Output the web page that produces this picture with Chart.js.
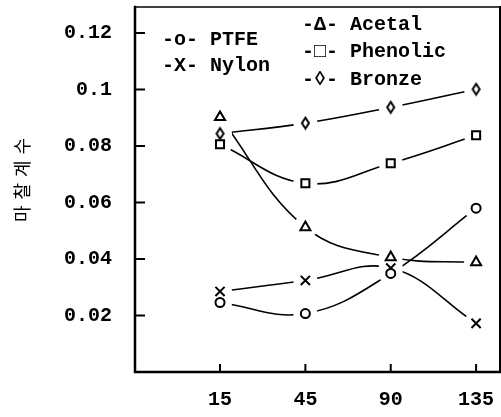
<!DOCTYPE html>
<html>
<head>
<meta charset="utf-8">
<script src="https://cdn.jsdelivr.net/npm/chart.js@4.4.1/dist/chart.umd.min.js"></script>
<style>
  html, body { margin: 0; padding: 0; background: #fff; }
  #wrap { width: 501px; height: 417px; }
</style>
</head>
<body>
<div id="wrap"><canvas id="c" width="501" height="417"></canvas></div>
<script>
/* data */
const xLabels  = ['15', '45', '90', '135'];
const yTicks   = [0.02, 0.04, 0.06, 0.08, 0.1, 0.12];
const ptfe     = [0.0246, 0.0207, 0.0349, 0.0580];
const nylon    = [0.0285, 0.0324, 0.0368, 0.0172];
const acetal   = [0.0902, 0.0512, 0.0406, 0.0388];
const phenolic = [0.0806, 0.0668, 0.0739, 0.0838];
const bronze   = [0.0844, 0.0881, 0.0937, 0.1001];
const yTitle   = '마찰계수';

const FONT = '"Liberation Mono", "DejaVu Sans Mono", monospace';
const GAP = 12;   // curves stop this far from each marker

// tall narrow diamond for Bronze
function diamond(w, h) {
  const c = document.createElement('canvas');
  c.width = w + 4; c.height = h + 4;
  const g = c.getContext('2d');
  g.lineWidth = 2; g.strokeStyle = '#000'; g.fillStyle = '#fff';
  g.beginPath();
  g.moveTo(c.width / 2, 2);
  g.lineTo(c.width - 2, c.height / 2);
  g.lineTo(c.width / 2, c.height - 2);
  g.lineTo(2, c.height / 2);
  g.closePath();
  g.fill(); g.stroke();
  return c;
}

const series = [
  { name: 'PTFE',     data: ptfe,     style: 'circle',   r: 4.5 },
  { name: 'Nylon',    data: nylon,    style: 'crossRot', r: 6.5 },
  { name: 'Acetal',   data: acetal,   style: 'triangle', r: 5.8 },
  { name: 'Phenolic', data: phenolic, style: 'rect',     r: 5.7 },
  { name: 'Bronze',   data: bronze,   style: diamond(7, 11), r: 6 }
];

const toPts = arr => arr.map((y, i) => ({ x: i, y }));

const datasets = [];
series.forEach(s => {
  // curve only
  datasets.push({ label: s.name, isCurve: true, data: toPts(s.data), showLine: true,
    tension: 0.4, fill: false, borderColor: '#000', borderWidth: 1.6, pointRadius: 0 });
  // markers only
  datasets.push({ label: s.name + ' pt', data: toPts(s.data), showLine: false,
    pointStyle: s.style, pointRadius: s.r,
    pointBackgroundColor: '#fff', pointBorderColor: '#000', pointBorderWidth: 2 });
});

const legendItems = [
  { text: '-o- PTFE',     x: 162, y: 40 },
  { text: '-X- Nylon',    x: 162, y: 66 },
  { text: '-Δ- Acetal',   x: 302, y: 25 },
  { text: '-□- Phenolic', x: 302, y: 52 },
  { text: '-◊- Bronze',   x: 302, y: 80 }
];

const noPad = s => { s.paddingLeft = s.paddingRight = s.paddingTop = s.paddingBottom = 0; };

// clip holes round every marker while a curve is drawn
const gapPlugin = {
  id: 'gaps',
  beforeDatasetDraw(chart, args) {
    if (!chart.data.datasets[args.index].isCurve) return;
    const { ctx, scales } = chart;
    ctx.save();
    series.forEach(s => s.data.forEach((v, i) => {
      const px = scales.x.getPixelForValue(i);
      const py = scales.y.getPixelForValue(v);
      ctx.beginPath();
      ctx.rect(0, 0, chart.width, chart.height);
      ctx.moveTo(px + GAP, py);
      ctx.arc(px, py, GAP, 0, Math.PI * 2);
      ctx.clip('evenodd');
    }));
  },
  afterDatasetDraw(chart, args) {
    if (chart.data.datasets[args.index].isCurve) chart.ctx.restore();
  }
};

const framePlugin = {
  id: 'frame',
  afterDraw(chart) {
    const { ctx, chartArea: a, scales } = chart;
    ctx.save();
    ctx.strokeStyle = '#000';
    ctx.lineCap = 'square';
    // box
    ctx.lineWidth = 1.5;
    ctx.beginPath(); ctx.moveTo(a.left, a.top); ctx.lineTo(a.right, a.top); ctx.stroke();
    ctx.lineWidth = 2;
    ctx.beginPath(); ctx.moveTo(a.right, a.top); ctx.lineTo(a.right, a.bottom); ctx.stroke();
    ctx.lineWidth = 2.5;
    ctx.beginPath(); ctx.moveTo(a.left, a.top); ctx.lineTo(a.left, a.bottom); ctx.lineTo(a.right, a.bottom); ctx.stroke();
    // inward tick marks
    ctx.lineWidth = 2; ctx.lineCap = 'butt';
    yTicks.forEach(v => {
      const py = scales.y.getPixelForValue(v);
      ctx.beginPath(); ctx.moveTo(a.left, py); ctx.lineTo(a.left + 10, py); ctx.stroke();
    });
    xLabels.forEach((_, i) => {
      const px = scales.x.getPixelForValue(i);
      ctx.beginPath(); ctx.moveTo(px, a.bottom); ctx.lineTo(px, a.bottom - 8); ctx.stroke();
    });
    // legend
    ctx.fillStyle = '#000';
    ctx.font = 'bold 20px ' + FONT;
    ctx.textBaseline = 'middle'; ctx.textAlign = 'left';
    legendItems.forEach(l => ctx.fillText(l.text, l.x, l.y));
    // y title, rotated
    ctx.translate(22, 177);
    ctx.rotate(-Math.PI / 2);
    ctx.font = '18px "Noto Sans CJK KR"';
    ctx.letterSpacing = '6px';
    ctx.textAlign = 'center';
    ctx.fillText(yTitle, 0, 0);
    ctx.restore();
  }
};

new Chart(document.getElementById('c'), {
  type: 'scatter',
  data: { datasets },
  options: {
    responsive: false,
    animation: false,
    devicePixelRatio: 1,
    layout: { autoPadding: false, padding: { top: 7, right: 1, left: 0, bottom: 0 } },
    plugins: { legend: { display: false }, tooltip: { enabled: false } },
    scales: {
      x: {
        type: 'linear', min: -0.996, max: 3.28,
        afterBuildTicks: s => { s.ticks = xLabels.map((_, i) => ({ value: i })); },
        afterFit: s => { s.height = 45; noPad(s); },
        ticks: { callback: v => xLabels[v], color: '#000', padding: 16,
                 font: { family: FONT, size: 20, weight: 'bold' }, maxRotation: 0 },
        grid: { display: false, drawTicks: false },
        border: { display: false }
      },
      y: {
        min: 0, max: 0.1292,
        afterBuildTicks: s => { s.ticks = yTicks.map(v => ({ value: v })); },
        afterFit: s => { s.width = 135; noPad(s); },
        ticks: { callback: v => String(v), color: '#000', padding: 23,
                 font: { family: FONT, size: 20, weight: 'bold' } },
        grid: { display: false, drawTicks: false },
        border: { display: false }
      }
    }
  },
  plugins: [gapPlugin, framePlugin]
});
</script>
</body>
</html>
